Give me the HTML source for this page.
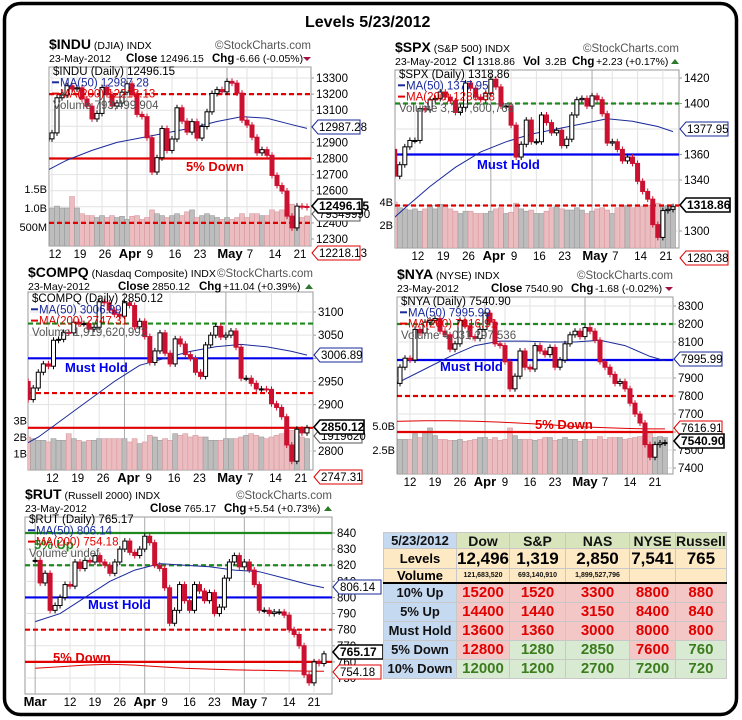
<!DOCTYPE html>
<html><head><meta charset="utf-8"><title>Levels 5/23/2012</title>
<style>
html,body{margin:0;padding:0;background:#fff;}
body{width:742px;height:720px;position:relative;overflow:hidden;font-family:"Liberation Sans",Arial,sans-serif;}
svg{position:absolute;left:0;top:0;}
#tbl{position:absolute;left:383px;top:532px;border-collapse:collapse;font-family:"Liberation Sans",Arial,sans-serif;font-weight:bold;text-align:center;}
#tbl td{border:1px solid #c8c8c8;padding:0;line-height:1;}
#tbl .lab{background:#c5d9f1;color:#111;font-size:13px;}
#tbl .hd{background:#d8e4bc;color:#111;font-size:14px;}
#tbl .cr{background:#fde9c4;}
#tbl .rd{background:#f4c7c7;color:#e00000;font-size:15px;}
#tbl .gn{background:#d9ead3;color:#3b7d1c;font-size:15px;}
#tbl .lv{font-size:17px;color:#000;}
#tbl .vol{font-size:7px;color:#111;}
#tbl tr.thick td{border-bottom:2px solid #000;}
</style></head>
<body>
<svg id="main" width="742" height="720" viewBox="0 0 742 720">
<rect x="4.5" y="3.5" width="732" height="711" rx="16" fill="#fff" stroke="#000" stroke-width="3.5"/>
<text x="305" y="27" font-size="16" font-weight="bold" font-family="Liberation Sans, sans-serif">Levels 5/23/2012</text>
</svg>

<table id="tbl">
<tr style="height:16px"><td class="lab" style="width:72px">5/23/2012</td><td class="hd" style="width:52px">Dow</td><td class="hd" style="width:55px">S&amp;P</td><td class="hd" style="width:63px">NAS</td><td class="hd" style="width:45px">NYSE</td><td class="hd" style="width:47px">Russell</td></tr>
<tr style="height:20px"><td class="cr" style="font-size:13px">Levels</td><td class="cr lv">12,496</td><td class="cr lv">1,319</td><td class="cr lv">2,850</td><td class="cr lv">7,541</td><td class="cr lv">765</td></tr>
<tr style="height:14px" class="thick"><td class="cr" style="font-size:13px">Volume</td><td class="cr vol">121,683,520</td><td class="cr vol">693,140,910</td><td class="cr vol">1,899,527,796</td><td class="cr"></td><td class="cr"></td></tr>
<tr style="height:19px"><td class="lab">10% Up</td><td class="rd">15200</td><td class="rd">1520</td><td class="rd">3300</td><td class="rd">8800</td><td class="rd">880</td></tr>
<tr style="height:19px"><td class="lab">5% Up</td><td class="rd">14400</td><td class="rd">1440</td><td class="rd">3150</td><td class="rd">8400</td><td class="rd">840</td></tr>
<tr style="height:19px"><td class="lab">Must Hold</td><td class="rd">13600</td><td class="rd">1360</td><td class="rd">3000</td><td class="rd">8000</td><td class="rd">800</td></tr>
<tr style="height:19px"><td class="lab">5% Down</td><td class="rd">12800</td><td class="gn">1280</td><td class="gn">2850</td><td class="rd">7600</td><td class="gn">760</td></tr>
<tr style="height:19px"><td class="lab">10% Down</td><td class="gn">12000</td><td class="gn">1200</td><td class="gn">2700</td><td class="gn">7200</td><td class="gn">720</td></tr>
</table>

<script>
// ---- shared time axis (trading days Mar 1 .. May 23, 2012) ----
const tickIdx=[0,7,12,17,22,26,31,36,42,46,51,56];
const tickLbl=['Mar','12','19','26','Apr','9','16','23','May','7','14','21'];
const maIdx=[0,5,10,15,20,25,30,35,40,45,50,55,58];

// ---- $INDU ----
const induClose=[12980,12977,12962,12759,12837,12907,12922,12959,13177,13194,13252,13232,13239,13170,13125,13046,13080,13241,13197,13126,13145,13212,13264,13199,13074,13060,12929,12716,12805,12986,12850,12921,13115,13032,12964,13029,12927,12999,13090,13204,13228,13214,13279,13268,13206,13038,13008,12932,12835,12855,12820,12695,12632,12598,12442,12369,12504,12502,12496];
const induVol=[1.0,0.9,0.85,1.1,0.95,0.9,0.95,1.0,1.05,1.0,1.0,1.3,1.0,0.85,0.8,0.8,0.75,0.8,0.75,0.8,0.75,0.78,0.7,0.78,0.8,0.7,0.75,0.95,0.85,0.8,0.75,0.8,0.85,0.8,0.9,0.95,0.75,0.8,0.85,0.8,0.75,0.7,0.75,0.7,0.75,0.85,0.75,0.85,0.85,0.8,0.8,0.95,0.9,0.95,0.85,1.1,0.75,0.75,0.79];
const induMa50=[12700,12710,12790,12850,12900,12930,12960,12990,13030,13060,13050,13010,12987];
const induTicks=[13300,13200,13100,13000,12900,12800,12700,12600,12500,12400,12300];
const induLevels=[13200,12800,12400];

// ---- $SPX ----
const spxClose=[1374,1370,1364,1343,1352,1366,1371,1371,1396,1395,1403,1404,1409,1405,1402,1393,1397,1416,1412,1405,1403,1408,1419,1413,1398,1398,1383,1358,1368,1387,1370,1370,1391,1385,1377,1379,1367,1372,1391,1403,1404,1398,1406,1403,1392,1369,1370,1364,1355,1358,1353,1339,1331,1325,1305,1295,1316,1317,1319];
const spxVol=[3.6,3.3,3.4,4.0,3.5,3.4,3.3,3.4,3.2,3.4,3.7,3.4,3.8,3.6,3.4,3.2,3.0,3.2,3.2,3.0,3.0,3.0,3.2,3.4,3.5,3.0,3.1,3.9,3.4,3.2,3.3,3.0,3.0,3.2,3.5,3.6,3.4,3.3,3.3,3.5,3.3,3.0,3.2,3.4,3.5,3.3,3.0,3.5,3.6,3.7,3.5,3.6,3.6,3.7,3.8,3.9,3.6,3.7,3.6];
const spxMa50=[1300,1318,1335,1350,1362,1370,1376,1380,1384,1388,1386,1382,1378];
const spxTicks=[1420,1400,1380,1360,1340,1320,1300];
const spxLevels=[1400,1360,1320];

// ---- $COMPQ ----
const compqClose=[2988,2977,2950,2911,2936,2970,2988,2983,3039,3041,3056,3055,3078,3075,3075,3063,3067,3122,3120,3104,3095,3091,3120,3114,3068,3080,3047,2991,3016,3055,3011,2988,3042,3031,3008,3000,2970,2961,3029,3050,3069,3046,3050,3059,3024,2957,2957,2946,2934,2934,2933,2902,2894,2874,2813,2778,2847,2839,2850];
const compqVol=[1.9,1.8,1.8,2.0,1.9,1.8,1.8,1.7,1.9,1.8,1.8,2.2,1.9,1.8,1.7,1.8,1.8,1.9,1.9,1.9,1.9,1.9,1.9,1.7,1.9,1.6,1.7,2.1,2.0,1.8,1.9,1.8,2.2,2.1,2.2,2.0,2.1,2.0,2.0,1.8,1.8,1.8,1.9,1.9,1.9,2.0,2.1,2.2,2.1,2.0,1.9,2.0,2.1,2.2,2.4,2.4,2.1,2.0,1.9];
const compqMa50=[2800,2830,2870,2910,2950,2985,3000,3015,3025,3030,3025,3015,3007];
const compqTicks=[3100,3050,3000,2950,2900,2850,2800];
const compqLevels=[3075,3000,2925,2850];

// ---- $NYA ----
const nyaClose=[8050,8010,7960,7800,7870,7960,8010,8000,8170,8150,8210,8220,8230,8160,8140,8060,8090,8220,8190,8130,8120,8170,8260,8210,8090,8080,7990,7840,7910,8050,7960,7950,8080,8050,8030,8070,7960,8000,8090,8140,8160,8130,8180,8160,8110,7990,7960,7920,7870,7880,7840,7760,7700,7650,7530,7460,7530,7539,7541];
const nyaVol=[3.9,3.6,3.5,4.4,3.7,3.6,3.6,3.6,4.2,3.8,4.4,4.8,4.0,3.6,3.6,3.5,3.5,3.6,3.4,3.5,3.6,3.8,3.8,3.6,3.8,3.5,3.6,4.8,4.0,3.6,3.6,3.6,3.5,3.6,3.8,3.8,3.5,3.6,3.8,3.6,3.6,3.4,3.6,3.6,3.6,3.9,3.6,3.8,3.8,3.8,3.6,3.7,3.8,3.9,4.0,4.4,3.8,3.9,3.8];
const nyaMa50=[7850,7880,7950,8020,8080,8105,8105,8100,8100,8110,8080,8020,7996];
const nyaMa200=[7655,7660,7662,7663,7660,7655,7648,7640,7630,7625,7620,7617,7617];
const nyaTicks=[8300,8200,8100,8000,7900,7800,7700,7600,7500,7400];
const nyaLevels=[8200,8000,7800,7600];

// ---- $RUT ----
const rutClose=[823,809,815,792,795,800,808,807,822,818,823,822,826,822,820,815,822,830,835,828,826,830,838,834,820,818,806,784,792,808,798,792,808,804,798,803,790,794,812,822,826,819,822,817,808,792,792,790,791,791,789,780,777,770,752,747,760,759,765];
const rutMa50=[785,790,800,810,817,821,820,819,817,816,812,808,806];
const rutMa200=[756,757,758,758.5,758,757,756,755.5,755,754.8,754.5,754.3,754.2];
const rutTicks=[840,830,820,810,800,790,780,770,760,750];
const rutLevels=[840,820,800,780,760];

// ---------------- drawing ----------------
const NS='http://www.w3.org/2000/svg';
const root=document.getElementById('main');
function el(tag,attrs,parent){const e=document.createElementNS(NS,tag);for(const k in attrs)e.setAttribute(k,attrs[k]);(parent||root).appendChild(e);return e;}
function txt(parent,x,y,s,size,opts){opts=opts||{};const t=el('text',{x:x,y:y,'font-size':size,'font-family':'Liberation Sans, sans-serif',fill:opts.fill||'#000','font-weight':opts.bold?'bold':'normal','text-anchor':opts.anchor||'start'},parent);t.textContent=s;return t;}

function drawChart(cfg){
  const g=el('g',{});
  
  
  const xOf=i=>cfg.xLast-(58-i)*cfg.step;
  const yOf=v=>cfg.yA+(cfg.pA-v)*(cfg.yB-cfg.yA)/(cfg.pA-cfg.pB);
  const clipId='clip-'+cfg.name;
  const cp=el('clipPath',{id:clipId},g);
  el('rect',{x:cfg.x0,y:cfg.y0,width:cfg.x1-cfg.x0,height:cfg.y1-cfg.y0},cp);
  const plot=el('rect',{x:cfg.x0,y:cfg.y0,width:cfg.x1-cfg.x0,height:cfg.y1-cfg.y0,fill:'#fff',stroke:'#999','stroke-width':1},g);
  
  
  const inner=el('g',{'clip-path':'url(#'+clipId+')'},g);
  cfg.ticks.forEach(v=>{el('line',{x1:cfg.x0,x2:cfg.x1,y1:yOf(v),y2:yOf(v),stroke:'#e2e2e2','stroke-width':1},inner);});
  tickIdx.forEach((i,k)=>{const x=xOf(i);el('line',{x1:x,x2:x,y1:cfg.y0,y2:cfg.y1,stroke:(tickLbl[k].length>2)?'#aaa':'#e2e2e2','stroke-width':1},inner);});
  if(cfg.vol){
    cfg.vol.forEach((v,i)=>{
      const up=i===0||cfg.close[i]>=cfg.close[i-1];
      const h=v*cfg.volPx;
      const b=el('rect',{x:xOf(i)-cfg.step/2,y:cfg.y1-h,width:cfg.step,height:h,fill:up?'#bdbdbd':'#ebbcc0',stroke:up?'#9a9a9a':'#d89aa0','stroke-width':0.6},inner);
      
      
    });
  }
  cfg.levels.forEach((v,k)=>{
    const st=cfg.levelStyle[k];
    const l=el('line',{x1:cfg.x0,x2:cfg.x1,y1:yOf(v),y2:yOf(v),stroke:st[0],'stroke-width':2.2,'stroke-dasharray':st[1]?'5,3':'none'},inner);
    
    
  });
  const maLine=(arr,color,nm)=>{
    const d=arr.map((v,k)=>(k?'L':'M')+xOf(maIdx[k]).toFixed(1)+','+yOf(v).toFixed(1)).join(' ');
    const p=el('path',{d:d,fill:'none',stroke:color,'stroke-width':1},inner);
    
    
  };
  maLine(cfg.ma50,'#1a2a9a','ma50-line');
  if(cfg.ma200)maLine(cfg.ma200,'#e00000','ma200-line');
  cfg.close.forEach((c,i)=>{
    const o=i?cfg.close[i-1]:c;
    const up=c>=o;
    const x=xOf(i);
    const yt=yOf(Math.max(o,c)),yb=yOf(Math.min(o,c));
    const col=up?'#000':'#cc1030';
    el('line',{x1:x,x2:x,y1:yt-3,y2:yb+3,stroke:col,'stroke-width':1},inner);
    const r=el('rect',{x:x-2,y:yt,width:4,height:Math.max(1,yb-yt),fill:up?'#fff':'#cc1030',stroke:col,'stroke-width':1},inner);
    
    
  });
  (cfg.levelText||[]).forEach(t=>{const e=txt(g,t[0],t[1],t[2],13,{bold:true,fill:t[3]});});
  cfg.ticks.forEach(v=>{const y=yOf(v);if(y<cfg.y0-2||y>cfg.y1+4)return;el('line',{x1:cfg.x1,x2:cfg.x1+3,y1:y,y2:y,stroke:'#999'},g);const t=txt(g,cfg.x1+5,y+4,String(v),11.5);});
  (cfg.volTicks||[]).forEach((v,k)=>{const t=txt(g,cfg.volLblX,cfg.y1-v*cfg.volPx+4,cfg.volLbl[k],11,{anchor:'end'});});
  tickIdx.forEach((i,k)=>{const x=xOf(i)+cfg.lblOff;if(x<cfg.x0+4)return;const big=tickLbl[k].length>2;const t=txt(g,x,cfg.y1+12,tickLbl[k],big?13:11.5,{anchor:'middle',bold:big});});
  const lg=el('g',{},g);
  
  
  cfg.legend.forEach((ln,k)=>{
    const y=cfg.legY+k*11.3;
    if(ln[2])el('line',{x1:cfg.x0+3,x2:cfg.x0+10,y1:y-4,y2:y-4,stroke:ln[1],'stroke-width':2},lg);
    txt(lg,cfg.x0+(ln[2]?11:4),y,ln[0],11.5,{fill:ln[1]});
  });
  cfg.tags.forEach(tg=>{
    const [y,s,color,bold]=tg;
    const w=bold?50:48,x=cfg.x1+1;
    const p=el('path',{d:`M${x},${y} L${x+6},${y-7} L${x+w},${y-7} L${x+w},${y+7} L${x+6},${y+7} Z`,fill:'#fff',stroke:color,'stroke-width':bold?1.6:1},g);
    
    
    txt(g,x+7,y+4,s,bold?12:11.5,{bold:bold});
  });
  const hd=el('g',{},g);
  
  
  const t1=txt(hd,cfg.x0,cfg.hY,'',12);
  const a=el('tspan',{'font-weight':'bold','font-size':14},t1);a.textContent=cfg.sym;
  const b=el('tspan',{'font-size':10.5},t1);b.textContent=' '+cfg.symName+' INDX';
  txt(hd,cfg.x1,cfg.hY,'\u00A9StockCharts.com',11.5,{anchor:'end',fill:'#555'});
  const t2=txt(hd,cfg.x0,cfg.hY+13,'',10.5);
  cfg.line2.forEach(p=>{const s=el('tspan',{x:p[0],'font-weight':p[2]?'bold':'normal','font-size':p[2]?11.5:10.5},t2);s.textContent=p[1];});
  el('path',{d:cfg.chgUp?`M${cfg.x1-8},${cfg.hY+12} L${cfg.x1-4},${cfg.hY+7} L${cfg.x1},${cfg.hY+12} Z`:`M${cfg.x1-8},${cfg.hY+8} L${cfg.x1-4},${cfg.hY+12} L${cfg.x1},${cfg.hY+8} Z`,fill:cfg.chgUp?'#2d7a2d':'#a01040'},hd);
}

const RED='#e00000',GRN='#1e8a1e',BLU='#0000ee';
drawChart({name:'indu',x0:49,x1:311,y0:67,y1:246,xLast:307,step:5,lblOff:3,pA:13300,yA:78,pB:12300,yB:239,
  close:induClose,vol:induVol,volPx:38,volTicks:[0.5,1.0,1.5],volLbl:['500M','1.0B','1.5B'],volLblX:47,
  ma50:induMa50,ticks:induTicks,levels:induLevels,levelStyle:[[RED,1],[RED,0],[RED,1]],
  levelText:[[186,171,'5% Down',RED]],
  legend:[['$INDU (Daily) 12496.15','#000',0],['MA(50) 12987.28','#1a2a9a',1],['MA(200) 12218.13',RED,1],['Volume 793,499,904','#555',0]],legY:75,
  tags:[[127,'12987.28','#1a2a9a',0],[214,'79349990','#555',0],[206,'12496.15','#000',1],[253,'12218.13',RED,0]],
  sym:'$INDU',symName:'(DJIA)',hY:49,chgUp:false,
  line2:[[49,'23-May-2012',0],[126,'Close',1],[160,'12496.15',0],[212,'Chg',1],[236,'-6.66 (-0.05%)',0]]});

drawChart({name:'spx',x0:395,x1:679,y0:70,y1:248,xLast:673,step:5.06,lblOff:3,pA:1420,yA:78,pB:1300,yB:231,
  close:spxClose,vol:spxVol,volPx:11.5,volTicks:[2,4],volLbl:['2B','4B'],volLblX:393,
  ma50:spxMa50,ticks:spxTicks,levels:spxLevels,levelStyle:[[GRN,1],[BLU,0],[RED,1]],
  levelText:[[477,169,'Must Hold',BLU]],
  legend:[['$SPX (Daily) 1318.86','#000',0],['MA(50) 1377.95','#1a2a9a',1],['MA(200) 1280.38',RED,1],['Volume 3,157,600,768','#555',0]],legY:78,
  tags:[[129,'1377.95','#1a2a9a',0],[205,'1318.86','#000',1],[258,'1280.38',RED,0]],
  sym:'$SPX',symName:'(S&P 500)',hY:52,chgUp:true,
  line2:[[395,'23-May-2012',0],[463,'Cl',1],[477,'1318.86',0],[523,'Vol',1],[545,'3.2B',0],[572,'Chg',1],[596,'+2.23 (+0.17%)',0]]});

drawChart({name:'compq',x0:28,x1:313,y0:292,y1:470,xLast:307,step:5.07,lblOff:4,pA:3100,yA:312,pB:2800,yB:451,
  close:compqClose,vol:compqVol,volPx:16.5,volTicks:[1,2,3],volLbl:['1B','2B','3B'],volLblX:27,
  ma50:compqMa50,ticks:compqTicks,levels:compqLevels,levelStyle:[[GRN,1],[BLU,0],[RED,1],[RED,0]],
  levelText:[[65,372,'Must Hold',BLU]],
  legend:[['$COMPQ (Daily) 2850.12','#000',0],['MA(50) 3006.89','#1a2a9a',1],['MA(200) 2747.31',RED,1],['Volume 1,919,620,992','#555',0]],legY:302,
  tags:[[355,'3006.89','#1a2a9a',0],[436,'1919620','#555',0],[427,'2850.12','#000',1],[477,'2747.31',RED,0]],
  sym:'$COMPQ',symName:'(Nasdaq Composite)',hY:277,chgUp:true,
  line2:[[28,'23-May-2012',0],[118,'Close',1],[152,'2850.12',0],[199,'Chg',1],[223,'+11.04 (+0.39%)',0]]});

drawChart({name:'nya',x0:397,x1:673,y0:297,y1:474,xLast:665,step:5,lblOff:0,pA:8300,yA:306,pB:7400,yB:468,
  close:nyaClose,vol:nyaVol,volPx:9.6,volTicks:[2.5,5.0],volLbl:['2.5B','5.0B'],volLblX:395,
  ma50:nyaMa50,ma200:nyaMa200,ticks:nyaTicks,levels:nyaLevels,levelStyle:[[GRN,1],[BLU,0],[RED,1],[RED,0]],
  levelText:[[440,371,'Must Hold',BLU],[535,429,'5% Down',RED]],
  legend:[['$NYA (Daily) 7540.90','#000',0],['MA(50) 7995.99','#1a2a9a',1],['MA(200) 7616.91',RED,1],['Volume 4,031,297,536','#555',0]],legY:305,
  tags:[[359,'7995.99','#1a2a9a',0],[428,'7616.91',RED,0],[441,'7540.90','#000',1]],
  sym:'$NYA',symName:'(NYSE)',hY:279,chgUp:false,
  line2:[[397,'23-May-2012',0],[491,'Close',1],[525,'7540.90',0],[571,'Chg',1],[595,'-1.68 (-0.02%)',0]]});

drawChart({name:'rut',x0:25,x1:332,y0:517,y1:694,xLast:324,step:4.98,lblOff:0,pA:840,yA:533,pB:750,yB:678,
  close:rutClose,vol:null,
  ma50:rutMa50,ma200:rutMa200,ticks:rutTicks,levels:rutLevels,levelStyle:[[GRN,0],[GRN,1],[BLU,0],[RED,1],[RED,0]],
  levelText:[[88,609,'Must Hold',BLU],[53,662,'5% Down',RED],[34,549,'5% Up',GRN]],
  legend:[['$RUT (Daily) 765.17','#000',0],['MA(50) 806.14','#1a2a9a',1],['MA(200) 754.18',RED,1],['Volume undef','#555',0]],legY:523,
  tags:[[587,'806.14','#1a2a9a',0],[652,'765.17','#000',1],[672,'754.18',RED,0]],
  sym:'$RUT',symName:'(Russell 2000)',hY:499,chgUp:true,
  line2:[[25,'23-May-2012',0],[150,'Close',1],[184,'765.17',0],[224,'Chg',1],[248,'+5.54 (+0.73%)',0]]});
</script>
</body></html>
